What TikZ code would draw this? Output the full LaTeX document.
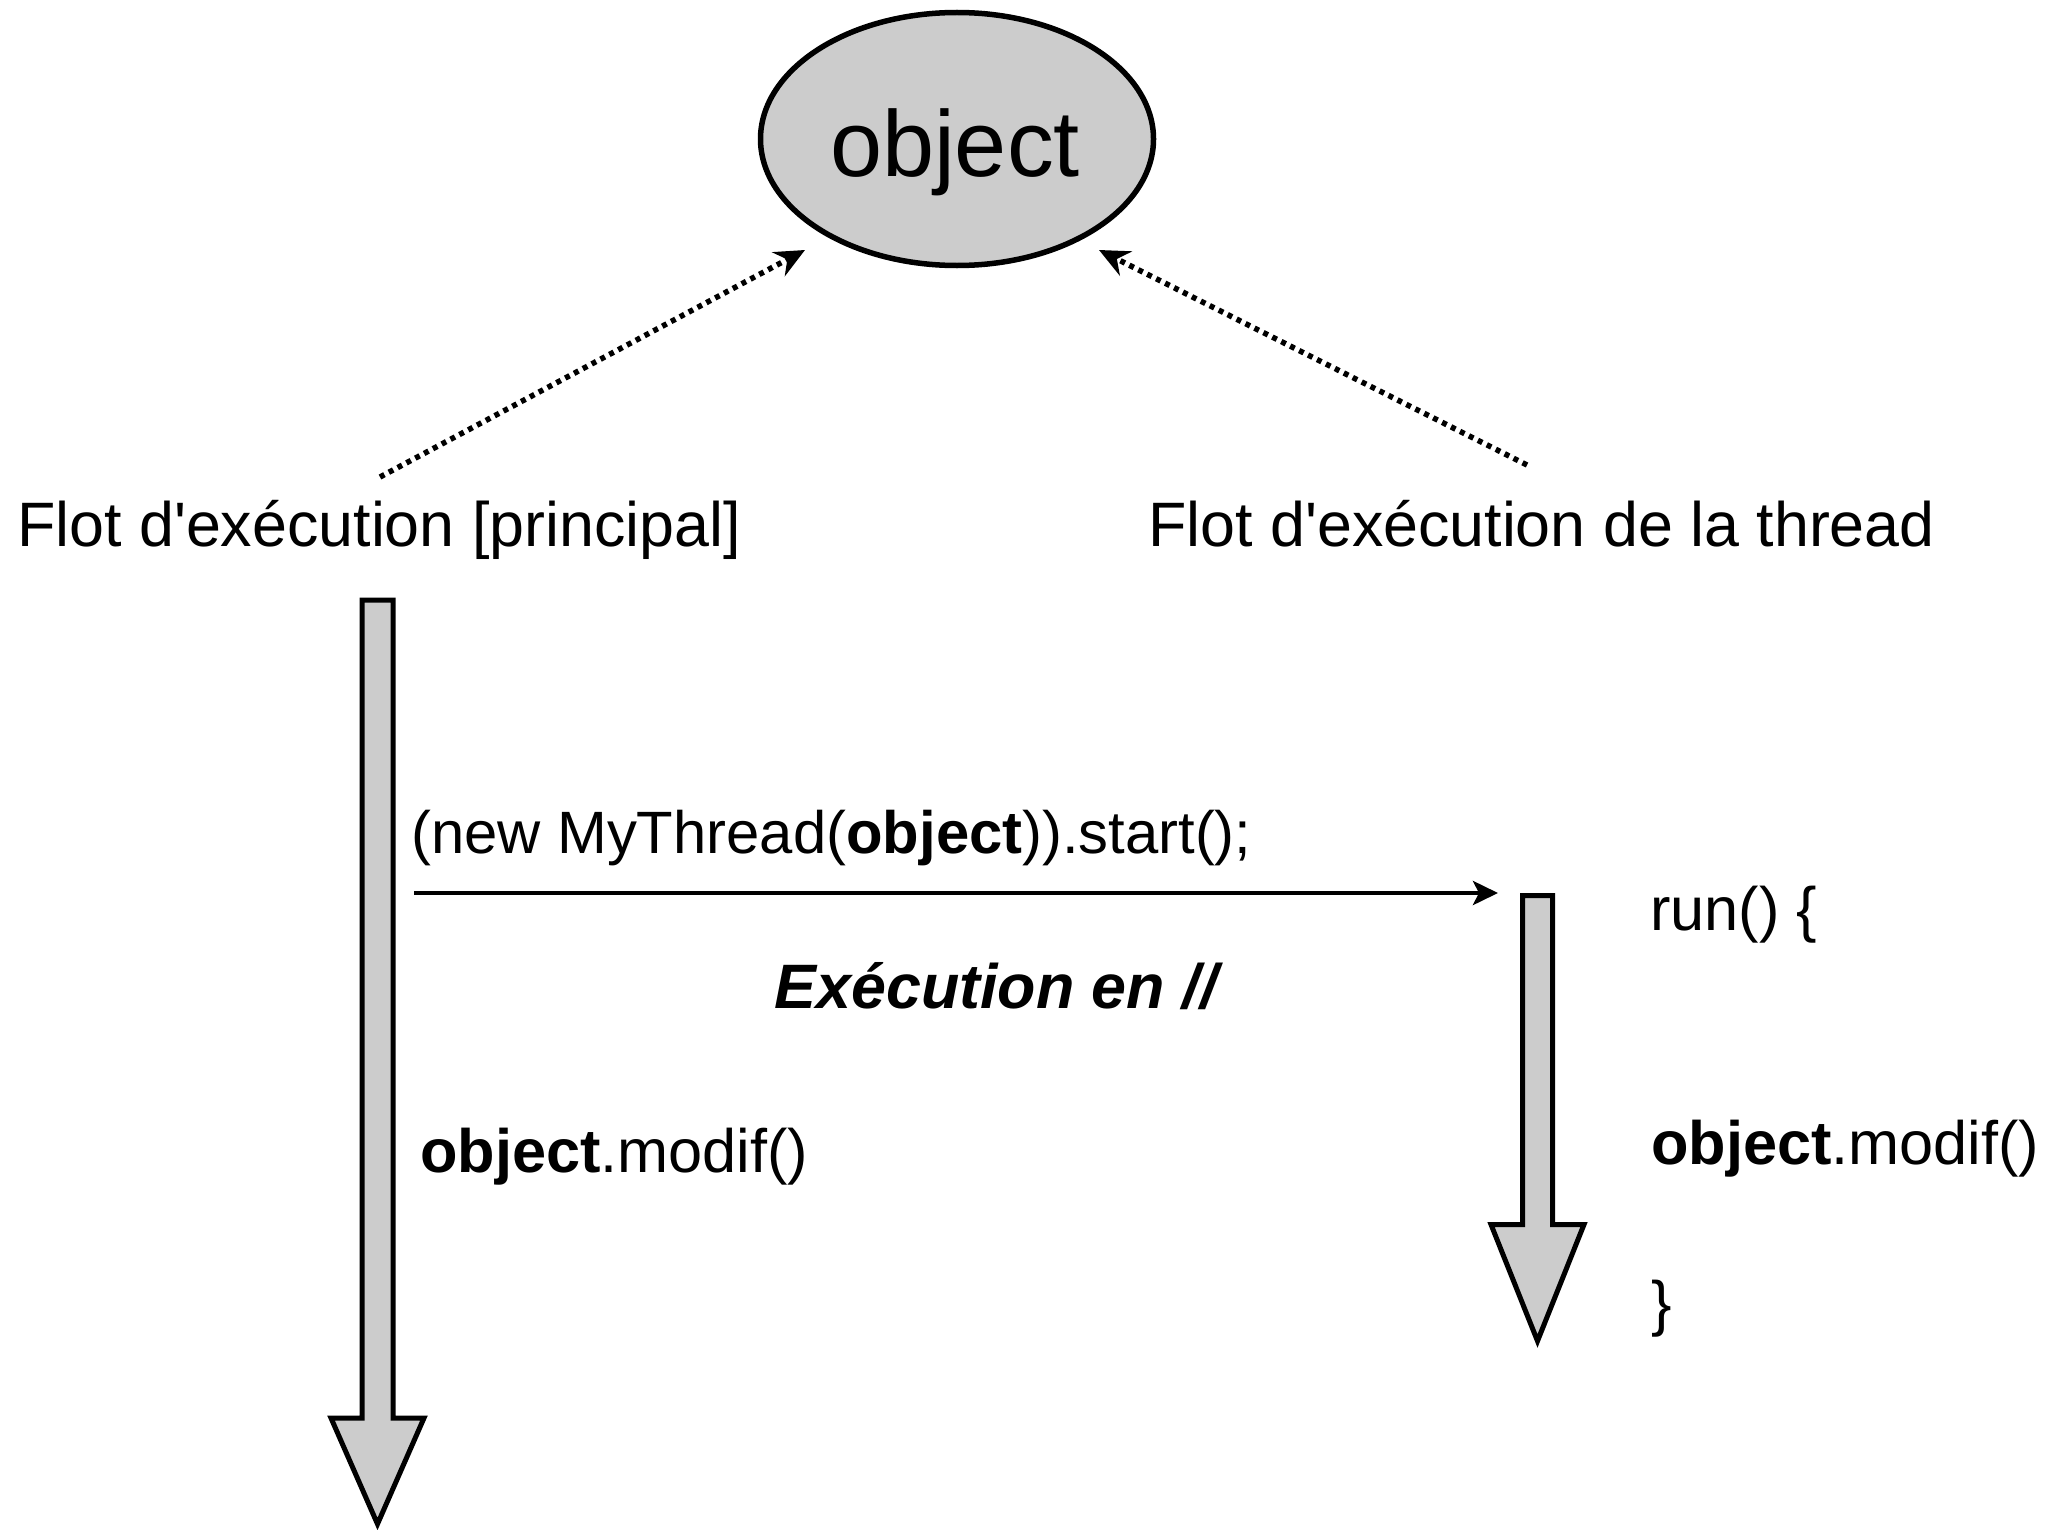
\documentclass[tikz,border=0pt]{standalone}
\usepackage{fontspec}
\setmainfont{Liberation Sans}[Ligatures=TeXOff]
\usetikzlibrary{arrows.meta,shapes.geometric}
\begin{document}
\begin{tikzpicture}[x=1bp,y=-1bp,
  gfill/.style={fill=black!20, draw=black, line width=5bp, line join=miter},
  txt/.style={inner sep=0pt, anchor=base west, font=\fontsize{63}{70}\selectfont},
  txtb/.style={inner sep=0pt, anchor=base west, font=\fontsize{61.5}{70}\selectfont},
  dotarrow/.style={line width=5.5bp, dash pattern=on 5bp off 5bp, -{Stealth[length=30bp,width=27bp,inset=10bp]}},
  callarrow/.style={line width=4.7bp, -{Stealth[length=25bp,width=24bp,inset=6bp]}}]
\useasboundingbox (0,0) rectangle (2061,1530);
% central object
\node[ellipse, gfill, line width=5.5bp, minimum width=393bp, minimum height=253bp, inner sep=0pt] (obj) at (957,139) {};
\node[inner sep=0pt, anchor=base, font=\fontsize{94}{100}\selectfont] (objtxt) at (955,177) {object};
% flow labels
\node[txt] (mainlbl) at (17,546) {Flot d'exécution [principal]};
\node[txt] (thrlbl) at (1148,546) {Flot d'exécution de la thread};
% dotted access arrows
\coordinate (d1s) at (380,477);
\coordinate (d1e) at (805,250);
\coordinate (d2s) at (1527,465);
\coordinate (d2e) at (1099,250);
\draw[dotarrow] (d1s) -- (d1e);
\draw[dotarrow] (d2s) -- (d2e);
% main flow block arrow
\draw[gfill] (362,600) -- (393,600) -- (393,1418) -- (424,1418) -- (377.5,1524) -- (331,1418) -- (362,1418) -- cycle;
% thread flow block arrow
\draw[gfill] (1522.5,895.5) -- (1552.5,895.5) -- (1552.5,1224.5) -- (1584,1224.5) -- (1537.5,1341) -- (1491,1224.5) -- (1522.5,1224.5) -- cycle;
% start call
\node[inner sep=0pt, anchor=base west, font=\fontsize{60}{70}\selectfont] (call) at (411,853) {(new MyThread(\textbf{object})).start();};
\coordinate (cs) at (414,893);
\coordinate (ce) at (1498,893);
\draw[callarrow] (cs) -- (ce);
\node[inner sep=0pt, anchor=base, font=\fontsize{63}{70}\selectfont\bfseries\itshape] (par) at (996,1008) {Exécution en //};
% modifications
\node[txtb] (mod1) at (420,1172) {\textbf{object}.modif()};
\node[txtb] (run) at (1650,930) {run() \{};
\node[txtb] (mod2) at (1651,1164) {\textbf{object}.modif()};
\node[txtb] (close) at (1651,1324) {\}};
\end{tikzpicture}
\end{document}
